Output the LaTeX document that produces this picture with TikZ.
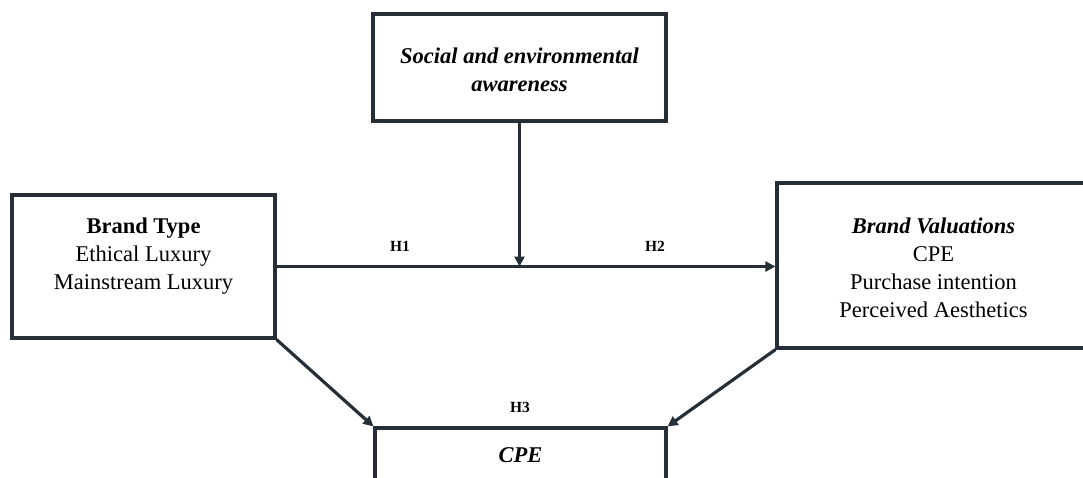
\documentclass[tikz,border=0pt]{standalone}
\usepackage{fontspec}
\setmainfont{Liberation Serif}
\usetikzlibrary{arrows.meta}
\definecolor{ink}{RGB}{38,46,56}
\tikzset{
  box/.style={draw=ink, line width=3.2pt, rectangle, inner sep=0pt},
  txt/.style={align=center, text=black, font=\fontsize{22.5}{28}\selectfont, inner sep=0pt},
  hlab/.style={text=black, font=\fontsize{15.5}{18}\selectfont\bfseries, inner sep=0pt},
  conn/.style={draw=ink, line width=3.2pt, -{Triangle[length=10pt,width=10pt]}}
}
\begin{document}
\begin{tikzpicture}[x=1pt,y=-1pt]
\useasboundingbox (0,0) rectangle (1083,477);
\clip (0,0) rectangle (1083,477);
\fill[white] (0,0) rectangle (1083,477);
% boxes
\node[box, minimum width=293pt, minimum height=107pt] (soc) at (519.5,67.5) {};
\node[box, minimum width=263pt, minimum height=143pt] (brand) at (143.5,266.5) {};
\node[box, minimum width=313pt, minimum height=165pt] (val) at (933.5,265.5) {};
\node[box, minimum width=291pt, minimum height=70pt] (cpe) at (520.5,463) {};
% texts
\node[txt] (soctxt) at (519.5,69.5) {\textbf{\textit{Social and environmental}}\\\textbf{\textit{awareness}}};
\node[txt] (brandtxt) at (143.5,256.5) {\textbf{Brand Type}\\Ethical Luxury\\Mainstream Luxury};
\node[txt] (valtxt) at (933.5,267.5) {\textbf{\textit{Brand Valuations}}\\CPE\\Purchase intention\\Perceived Aesthetics};
\node[txt] (cpetxt) at (520.5,455) {\textbf{\textit{CPE}}};
% hypothesis labels
\node[hlab] (h1) at (400,246) {H1};
\node[hlab] (h2) at (655,246) {H2};
\node[hlab] (h3) at (520,407) {H3};
% connectors
\draw[conn] (brand.east) -- (brand.east -| val.west);
\draw[conn] (soc.south) -- (soc.south |- brand.east);
\draw[conn] (brand.south east) -- (cpe.north west);
\draw[conn] (val.south west) -- (cpe.north east);
\end{tikzpicture}
\end{document}
